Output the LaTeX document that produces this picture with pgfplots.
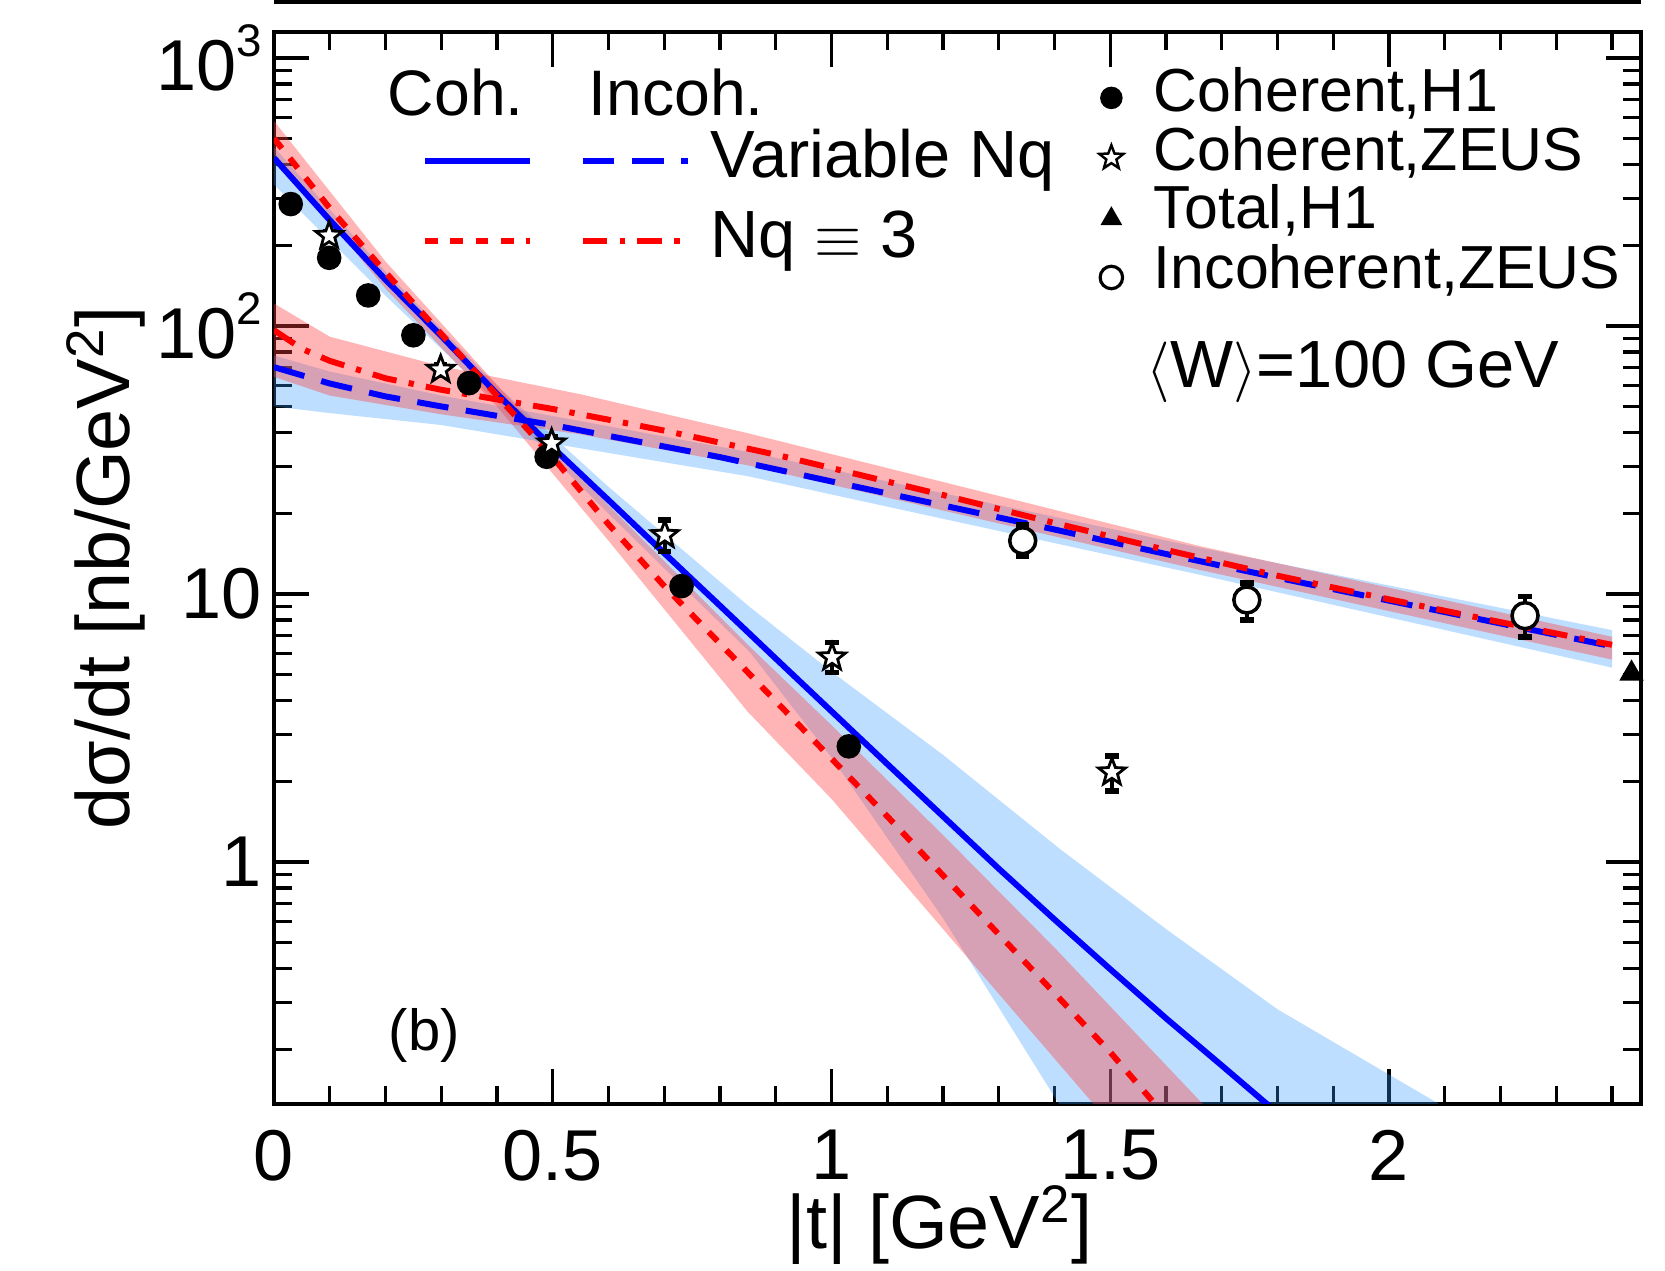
\documentclass[border=0pt]{standalone}
\usepackage{fontspec}
\setmainfont{Liberation Sans}
\usepackage{pgfplots}
\pgfplotsset{compat=1.18}
\definecolor{bandblue}{RGB}{51,153,255}
\definecolor{bandred}{RGB}{255,60,60}
% open five-pointed star, as the ROOT marker
\pgfdeclareplotmark{ostar}{%
  \pgfpathmoveto{\pgfqpointpolar{90}{\pgfplotmarksize}}%
  \pgfpathlineto{\pgfqpointpolar{126}{0.42\pgfplotmarksize}}%
  \pgfpathlineto{\pgfqpointpolar{162}{\pgfplotmarksize}}%
  \pgfpathlineto{\pgfqpointpolar{198}{0.42\pgfplotmarksize}}%
  \pgfpathlineto{\pgfqpointpolar{234}{\pgfplotmarksize}}%
  \pgfpathlineto{\pgfqpointpolar{270}{0.42\pgfplotmarksize}}%
  \pgfpathlineto{\pgfqpointpolar{306}{\pgfplotmarksize}}%
  \pgfpathlineto{\pgfqpointpolar{342}{0.42\pgfplotmarksize}}%
  \pgfpathlineto{\pgfqpointpolar{18}{\pgfplotmarksize}}%
  \pgfpathlineto{\pgfqpointpolar{54}{0.42\pgfplotmarksize}}%
  \pgfpathclose
  \pgfusepathqfillstroke}
\newcommand{\sups}[1]{\raisebox{0.48em}{\fontsize{13}{13}\selectfont #1}}
\tikzset{
  cohvar/.style={blue,line width=1.7pt},
  incvar/.style={blue,line width=1.7pt,dash pattern=on 9pt off 5pt},
  coh3/.style={red,line width=1.7pt,dash pattern=on 3.6pt off 3.6pt},
  inc3/.style={red,line width=1.7pt,dash pattern=on 7pt off 3.5pt on 1.5pt off 3.5pt},
  txt/.style={anchor=base west,inner sep=0pt}
}
\pgfplotsset{
  ebar/.style={error bars/.cd,y dir=both,y explicit,
    error bar style={line width=1pt,black},
    error mark=-,error mark options={rotate=90,line width=1.6pt,mark size=1.9pt,black}}
}

\begin{document}
\begin{tikzpicture}
\begin{axis}[
  at={(0,0)},anchor=south west,
  scale only axis,width=13.67cm,height=10.72cm,
  xmin=0,xmax=2.452,ymin=0.125,ymax=1250,ymode=log,
  axis line style={line width=1.2pt},
  every tick/.style={black,line width=0.9pt},
  major tick length=0.35cm,minor tick length=0.18cm,
  xtick={0,0.5,1,1.5,2},xticklabels={0,0.5,1,1.5,2},
  minor xtick={0.1,0.2,0.3,0.4,0.6,0.7,0.8,0.9,1.1,1.2,1.3,1.4,1.6,1.7,1.8,1.9,2.1,2.2,2.3,2.4},
  ytick={1,10,100,1000},
  yticklabels={1,10,10\sups{2},10\sups{3}},
  minor ytick={0.2,0.3,0.4,0.5,0.6,0.7,0.8,0.9,2,3,4,5,6,7,8,9,20,30,40,50,60,70,80,90,200,300,400,500,600,700,800,900},
  ticklabel style={font=\fontsize{20.5}{24}\selectfont},
  /pgf/number format/assume math mode=true,
  xticklabel style={yshift=-0.14cm},
  xlabel={|t| [GeV\textsuperscript{2}]},
  ylabel={dσ/dt [nb/GeV\textsuperscript{2}]},
  xlabel style={at={(axis description cs:0.487,-0.113)},anchor=center,font=\fontsize{21.5}{25}\selectfont},
  ylabel style={at={(axis description cs:-0.123,0.5)},anchor=center,font=\fontsize{21.5}{25}\selectfont},
]
% uncertainty bands, coherent
\addplot[draw=none,fill=bandblue,fill opacity=0.32] coordinates {
 (0,464.5) (0.2,159.6) (0.4,59.8) (0.6,25.1) (0.85,9.06) (1.0,5.13) (1.2,2.51)
 (1.41,1.117) (1.6,0.562) (1.8,0.282) (2.09,0.125) (2.3,0.063)
 (1.5,0.063) (1.408,0.125) (1.2,0.617) (1.0,2.455) (0.854,6.05) (0.6,19.95)
 (0.4,52.1) (0.2,129.7) (0,336.5)} -- cycle;
\addplot[draw=none,fill=bandred,fill opacity=0.38] coordinates {
 (0,582) (0.2,174) (0.4,60.3) (0.6,21.4) (0.85,6.46) (1.0,3.24) (1.2,1.26)
 (1.4,0.479) (1.666,0.125) (1.75,0.079)
 (1.55,0.079) (1.47,0.125) (1.2,0.562) (1.0,1.72) (0.85,3.63) (0.6,15.8)
 (0.4,50.1) (0.2,138) (0,436.5)} -- cycle;
% uncertainty bands, incoherent
\addplot[draw=none,fill=bandblue,fill opacity=0.32] coordinates {
 (0,77.6) (0.1,67.6) (0.3,55.0) (0.85,33.9) (1.66,14.9) (2.4,7.33)
 (2.4,5.31) (1.66,11.8) (0.85,27.5) (0.3,42.7) (0.1,47.3) (0,50.1)} -- cycle;
\addplot[draw=none,fill=bandred,fill opacity=0.38] coordinates {
 (0,121.3) (0.1,91.2) (0.3,70.8) (0.55,55.6) (0.85,39.8) (1.66,15.1) (2.4,6.92)
 (2.4,5.69) (1.66,12.3) (0.85,30.2) (0.55,39.4) (0.3,46.8) (0.1,55.0) (0,64.6)} -- cycle;

% coherent, variable Nq
\addplot[cohvar] coordinates {
 (0,423.6) (0.1,248.3) (0.2,148.9) (0.3,91.8) (0.4,55.8) (0.5,35.2) (0.6,22.4)
 (0.7,14.2) (0.8,9.04) (0.9,5.74) (1.0,3.65) (1.1,2.32) (1.2,1.48) (1.3,0.944)
 (1.4,0.610) (1.5,0.398) (1.6,0.261) (1.7,0.174) (1.8,0.1156)};
% coherent, Nq = 3
\addplot[coh3] coordinates {
 (0,501) (0.1,275) (0.2,158.5) (0.3,93.3) (0.4,55.0) (0.5,32.4) (0.6,18.2)
 (0.7,10.7) (0.8,6.53) (0.9,3.98) (1.0,2.43) (1.1,1.48) (1.2,0.891) (1.3,0.537)
 (1.4,0.324) (1.5,0.195) (1.6,0.112)};
% incoherent, variable Nq
\addplot[incvar] coordinates {
 (0,70.2) (0.1,61.0) (0.2,54.6) (0.3,50.1) (0.4,46.2) (0.5,42.7) (0.6,38.9)
 (0.7,35.5) (0.8,32.4) (0.9,29.2) (1.0,26.3) (1.2,21.4) (1.4,17.4) (1.6,14.1)
 (1.8,11.5) (2.0,9.44) (2.2,7.76) (2.4,6.38)};
% incoherent, Nq = 3
\addplot[inc3] coordinates {
 (0,96.4) (0.05,82.2) (0.1,74.1) (0.2,63.8) (0.3,57.8) (0.4,53.2) (0.5,49.0)
 (0.6,44.7) (0.7,40.7) (0.8,36.7) (0.9,33.1) (1.0,29.5) (1.2,23.4) (1.4,18.4)
 (1.6,14.6) (1.8,11.7) (2.0,9.55) (2.2,7.85) (2.4,6.46)};

% data: coherent H1
\addplot[only marks,mark=*,mark size=3.3pt,black] coordinates {
 (0.030,285) (0.099,179.6) (0.169,130) (0.250,92.3) (0.350,61.2)
 (0.489,32.5) (0.731,10.7) (1.031,2.70)};
% data: coherent ZEUS (error bars, then the open stars on top)
\addplot[draw=none,mark=none,ebar] coordinates {
 (0.099,217) +- (0,8)
 (0.299,68.7) +- (0,3)
 (0.498,36.5) +- (0,2)
 (0.701,16.6) += (0,2.3) -= (0,2.2)
 (1.001,5.8) += (0,0.8) -= (0,0.7)
 (1.503,2.16) += (0,0.32) -= (0,0.32)};
\addplot[only marks,mark=ostar,mark size=4pt,
  mark options={draw=black,fill=white,line width=0.8pt}] coordinates {
 (0.099,217) (0.299,68.7) (0.498,36.5) (0.701,16.6) (1.001,5.8) (1.503,2.16)};
% data: incoherent ZEUS
\addplot[draw=none,mark=none,ebar] coordinates {
 (1.343,15.8) += (0,2.3) -= (0,2.0)
 (1.745,9.5) += (0,1.5) -= (0,1.5)
 (2.244,8.3) += (0,1.5) -= (0,1.4)};
\addplot[only marks,mark=*,mark size=3.7pt,
  mark options={draw=black,fill=white,line width=1pt}] coordinates {
 (1.343,15.8) (1.745,9.5) (2.244,8.3)};
% data: total H1
\addplot[only marks,mark=triangle*,mark size=3.6pt,black] coordinates {(2.435,5.05)};

% legend samples
\addplot[cohvar] coordinates {(0.271,413) (0.459,413)};
\addplot[incvar] coordinates {(0.554,413) (0.743,413)};
\addplot[coh3] coordinates {(0.271,208) (0.459,208)};
\addplot[inc3] coordinates {(0.554,208) (0.743,208)};
\addplot[only marks,mark=*,mark size=3pt,black] coordinates {(1.502,709.6)};
\addplot[only marks,mark=ostar,mark size=3.6pt,mark options={draw=black,fill=white,line width=0.7pt}] coordinates {(1.502,424)};
\addplot[only marks,mark=triangle*,mark size=3.2pt,black] coordinates {(1.502,251)};
\addplot[only marks,mark=*,mark size=3.2pt,mark options={draw=black,fill=white,line width=0.9pt}] coordinates {(1.502,151.7)};

\node[txt,font=\fontsize{18.3}{20}\selectfont] at (axis cs:0.203,608) {Coh.};
\node[txt,font=\fontsize{18.3}{20}\selectfont] at (axis cs:0.563,608) {Incoh.};
\node[txt,font=\fontsize{19}{21}\selectfont] at (axis cs:0.782,357) {Variable Nq};
\node[txt,font=\fontsize{19}{21}\selectfont] at (axis cs:0.782,180) {Nq $\equiv$ 3};
\node[txt,font=\fontsize{17.3}{20}\selectfont] at (axis cs:1.577,634) {Coherent,H1};
\node[txt,font=\fontsize{17.3}{20}\selectfont] at (axis cs:1.577,379) {Coherent,ZEUS};
\node[txt,font=\fontsize{17.3}{20}\selectfont] at (axis cs:1.577,231) {Total,H1};
\node[txt,font=\fontsize{17.3}{20}\selectfont] at (axis cs:1.577,138) {Incoherent,ZEUS};
\node[txt,font=\fontsize{19}{22}\selectfont] at (axis cs:1.564,59.0) {$\big\langle$W$\big\rangle$=100 GeV};
\node[txt,font=\fontsize{16.5}{18}\selectfont] at (axis cs:0.2045,0.198) {(b)};
\end{axis}
% lower edge of the panel above
\draw[line width=1.4pt] (0,11.02) -- (13.67,11.02);
\pgfresetboundingbox
\path[use as bounding box] (-2.74,-1.67) rectangle (13.91,11.04);
\end{tikzpicture}
\end{document}
